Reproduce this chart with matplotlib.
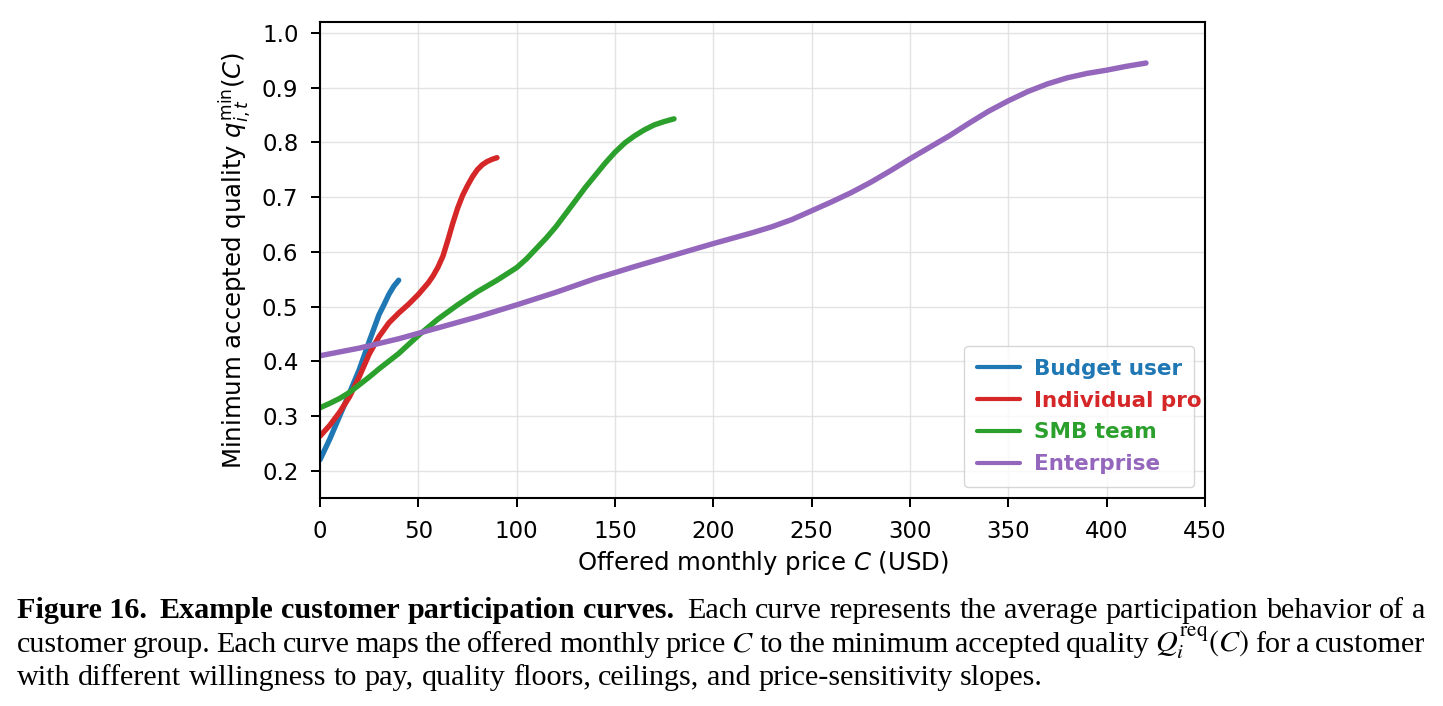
import matplotlib
matplotlib.use("Agg")
import matplotlib.pyplot as plt
import matplotlib.transforms as mtransforms

# ---------------- data ----------------
budget_price = [0, 5, 10, 15, 20, 25, 30, 32.5, 35, 37.5, 40]
budget_q = [0.220, 0.258, 0.300, 0.342, 0.385, 0.436, 0.485, 0.503, 0.522, 0.537, 0.548]

indiv_price = [0, 5, 10, 15, 20, 25, 30, 35, 40, 45, 50, 55, 57.5, 60, 62.5, 65, 67.5, 70,
               72.5, 75, 77.5, 80, 82.5, 85, 87.5, 90]
indiv_q = [0.263, 0.283, 0.307, 0.335, 0.372, 0.413, 0.445, 0.470, 0.488, 0.504,
           0.522, 0.543, 0.556, 0.572, 0.592, 0.621, 0.652, 0.680, 0.703, 0.721,
           0.737, 0.750, 0.759, 0.765, 0.769, 0.772]

smb_price = [0, 5, 10, 15, 20, 25, 30, 40, 50, 60, 70, 80, 90, 100, 105, 110, 115, 120,
             125, 130, 135, 140, 145, 150, 155, 160, 165, 170, 175, 180]
smb_q = [0.315, 0.323, 0.332, 0.343, 0.357, 0.371, 0.386, 0.414, 0.447, 0.477,
         0.503, 0.527, 0.548, 0.571, 0.587, 0.606, 0.625, 0.646, 0.670, 0.694,
         0.718, 0.740, 0.762, 0.782, 0.799, 0.812, 0.823, 0.832, 0.838, 0.843]

ent_price = [0, 20, 40, 60, 80, 100, 120, 140, 160, 180, 200, 220, 230, 240, 250, 260,
             270, 280, 290, 300, 310, 320, 330, 340, 350, 360, 370, 380, 390, 400, 410, 420]
ent_q = [0.410, 0.424, 0.441, 0.461, 0.481, 0.503, 0.526, 0.551, 0.573, 0.594,
         0.615, 0.635, 0.646, 0.659, 0.675, 0.691, 0.708, 0.727, 0.748, 0.770,
         0.791, 0.812, 0.835, 0.857, 0.876, 0.893, 0.907, 0.918, 0.926, 0.932,
         0.939, 0.945]

series_labels = ["Budget user", "Individual pro", "SMB team", "Enterprise"]
series_colors = ["#1f77b4", "#d62728", "#2ca02c", "#9467bd"]

x_ticks = [0, 50, 100, 150, 200, 250, 300, 350, 400, 450]
y_ticks = [0.2, 0.3, 0.4, 0.5, 0.6, 0.7, 0.8, 0.9, 1.0]

caption_lines = [
    [("Figure 16.", "bold", 1.6), ("Example", "bold", 1), ("customer", "bold", 1),
     ("participation", "bold", 1), ("curves.", "bold", 1.6)] +
    [(w, "normal", 1) for w in "Each curve represents the average participation behavior of a".split()],
    [(w, "normal", 1) for w in "customer group. Each curve maps the offered monthly price".split()] +
    [(r"$C$", "normal", 1)] +
    [(w, "normal", 1) for w in "to the minimum accepted quality".split()] +
    [(r"$Q_i^{\mathrm{req}}(C)$", "normal", 1)] +
    [(w, "normal", 1) for w in "for a customer".split()],
    [(w, "normal", 1) for w in "with different willingness to pay, quality floors, ceilings, and price-sensitivity slopes.".split()],
]

# ---------------- figure ----------------
W, H = 1443, 706
fig = plt.figure(figsize=(W / 100, H / 100), dpi=100)
ax = fig.add_axes([320 / W, 1 - 498 / H, 885 / W, 476 / H])

TICK_FS = 16.5
LABEL_FS = 17.6
LEG_FS = 15.5
all_series = [(budget_price, budget_q), (indiv_price, indiv_q), (smb_price, smb_q), (ent_price, ent_q)]
for (xs, ys), lab, col in zip(all_series, series_labels, series_colors):
    ax.plot(xs, ys, color=col, lw=3.9, label=lab, solid_capstyle="round",
            solid_joinstyle="round")

ax.set_xlim(0, 450)
ax.set_ylim(0.15, 1.02)
ax.set_xticks(x_ticks)
ax.set_yticks(y_ticks)
ax.set_xticklabels([str(v) for v in x_ticks])
ax.set_yticklabels([f"{v:.1f}" for v in y_ticks])
ax.tick_params(labelsize=TICK_FS, length=6.5, width=1.45, pad=9)
for s in ax.spines.values():
    s.set_linewidth(1.5)
ax.grid(True, color="#dddddd", lw=1.0, alpha=0.8)
ax.set_axisbelow(True)

ax.set_xlabel(r"Offered monthly price $C$ (USD)", fontsize=LABEL_FS, labelpad=5)
ax.set_ylabel(r"Minimum accepted quality $q_{i,t}^{\mathrm{min}}(C)$", fontsize=LABEL_FS, labelpad=5.4)

leg = ax.legend(loc="lower right", fontsize=LEG_FS, handlelength=2.0, borderaxespad=0.5,
                labelspacing=0.55, borderpad=0.6, handletextpad=0.65, framealpha=0.8)
for line in leg.get_lines():
    line.set_linewidth(3.0)
# legend box is laid out for regular-weight labels; bold coloured labels drawn on top
for txt in leg.get_texts():
    txt.set_visible(False)

renderer = fig.canvas.get_renderer()
fig.canvas.draw()
ident = mtransforms.IdentityTransform()
for txt, col in zip(leg.get_texts(), series_colors):
    px, py = txt.get_transform().transform(txt.get_position())
    fig.text(px, py, txt.get_text(), color=col, fontsize=LEG_FS, weight="bold",
             ha="left", va="baseline", transform=ident, zorder=10)

# ---------------- caption ----------------
x0, x1 = 17, 1425
baselines = [618, 652, 685]
base_fs = 10.0


def measure(tokens, fs):
    ws = []
    for s, wt, _ in tokens:
        t = fig.text(0, 0, s, fontsize=fs, weight=wt, family="Liberation Serif",
                     math_fontfamily="stix", transform=ident)
        ws.append(t.get_window_extent(renderer).width)
        t.remove()
    return ws


ws1 = measure(caption_lines[0], base_fs)
space_em = 0.25
n_gaps = sum(f for _, _, f in caption_lines[0][:-1])
scale_w = sum(ws1) / base_fs + n_gaps * space_em * 100 / 72
cap_fs = (x1 - x0) / scale_w
nat_space = space_em * cap_fs * 100 / 72

for li, (tokens, yb) in enumerate(zip(caption_lines, baselines)):
    ws = measure(tokens, cap_fs)
    factors = [f for _, _, f in tokens[:-1]]
    if li < 2:
        gap = (x1 - x0 - sum(ws)) / sum(factors)
    else:
        gap = nat_space
    x = x0
    for (s, wt, f), w in zip(tokens, ws):
        fig.text(x, H - yb, s, fontsize=cap_fs, weight=wt, family="Liberation Serif",
                 math_fontfamily="stix", transform=ident, va="baseline", ha="left")
        x += w + gap * f

fig.savefig("out.png", dpi=100)
